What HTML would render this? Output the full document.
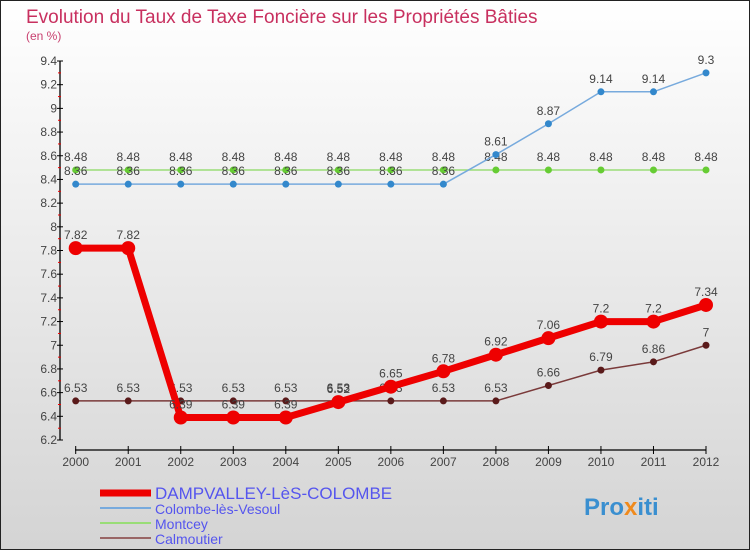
<!DOCTYPE html>
<html><head><meta charset="utf-8"><style>
body{margin:0;width:750px;height:550px;overflow:hidden;font-family:"Liberation Sans",sans-serif}
svg{display:block}
</style></head><body>
<svg width="750" height="550">
<defs><linearGradient id="bg" x1="0" y1="0" x2="0" y2="1"><stop offset="0" stop-color="#ffffff"/><stop offset="1" stop-color="#d4d4d4"/></linearGradient></defs>
<rect x="0.5" y="0.5" width="749" height="549" fill="url(#bg)" stroke="#222"/>
<text x="26" y="23" font-size="19" fill="#c8305f">Evolution du Taux de Taxe Foncière sur les Propriétés Bâties</text>
<text x="26" y="40" font-size="12" fill="#c8406f">(en %)</text>
<g id="axes"></g><g id="series"></g><g id="legend"></g>
<text x="584" y="515" font-size="24" font-weight="bold" fill="#3a8fd0">Pro<tspan fill="#f08a1c">x</tspan>iti</text>
</svg>
<script>
const years=[2000,2001,2002,2003,2004,2005,2006,2007,2008,2009,2010,2011,2012];
const yTicks=[6.2,6.4,6.6,6.8,7,7.2,7.4,7.6,7.8,8,8.2,8.4,8.6,8.8,9,9.2,9.4];
const dampvalley=[7.82,7.82,6.39,6.39,6.39,6.52,6.65,6.78,6.92,7.06,7.2,7.2,7.34];
const colombe=[8.36,8.36,8.36,8.36,8.36,8.36,8.36,8.36,8.61,8.87,9.14,9.14,9.3];
const montcey=[8.48,8.48,8.48,8.48,8.48,8.48,8.48,8.48,8.48,8.48,8.48,8.48,8.48];
const calmoutier=[6.53,6.53,6.53,6.53,6.53,6.53,6.53,6.53,6.53,6.66,6.79,6.86,7];
const NS='http://www.w3.org/2000/svg';
function X(i){return 75.7+i*(706-75.7)/(years.length-1);}
function Y(v){return 440-(v-6.2)/3.2*379;}
function mk(t,a,p){const e=document.createElementNS(NS,t);for(const k in a)e.setAttribute(k,a[k]);p.appendChild(e);return e;}
const ax=document.getElementById('axes');
let e=mk('line',{x1:60,y1:61,x2:60,y2:440,stroke:'#000','stroke-width':1.3},ax);


yTicks.forEach((v,i)=>{
 const y=Y(v);
 let t=mk('line',{x1:57,x2:63,y1:y,y2:y,stroke:'#000'},ax);
 
 
 if(i<yTicks.length-1){let m=mk('line',{x1:58,x2:61,y1:y-11.8,y2:y-11.8,stroke:'#e00'},ax);
 
 }
 let l=mk('text',{x:57,y:y+4,'font-size':12,fill:'#444','text-anchor':'end'},ax);
 l.textContent=String(v);
 
 
});
e=mk('line',{x1:75,y1:450,x2:706,y2:450,stroke:'#000','stroke-width':1.3},ax);


years.forEach((yr,i)=>{
 let t=mk('line',{x1:X(i),x2:X(i),y1:446,y2:454,stroke:'#000'},ax);
 
 
 let l=mk('text',{x:X(i),y:466,'font-size':12,fill:'#444','text-anchor':'middle'},ax);
 l.textContent=yr;
 
 
});
const sg=document.getElementById('series');
function draw(name,data,color,w,r,dot){
 const g=mk('g',{},sg);
 
 
 let p=mk('polyline',{points:data.map((v,i)=>X(i)+','+Y(v)).join(' '),fill:'none',stroke:color,'stroke-width':w,'stroke-linejoin':'round'},g);
 
 
 data.forEach((v,i)=>{
  let c=mk('circle',{cx:X(i),cy:Y(v),r:r,fill:dot},g);
  
  
  let t=mk('text',{x:X(i),y:Y(v)-9,'font-size':12,fill:'#444','text-anchor':'middle'},g);
  t.textContent=String(v);
  
  
 });
}
draw('calmoutier',calmoutier,'#7a3a3a',1.5,3.5,'#5a1a1a');
draw('montcey',montcey,'#99dd77',1.5,3.5,'#66cc33');
draw('colombe',colombe,'#77aadd',1.5,3.5,'#3388cc');
draw('dampvalley',dampvalley,'#ee0000',7,7,'#ee0000');
const lg=document.getElementById('legend');
const items=[['DAMPVALLEY-LèS-COLOMBE','#ee0000',7,16],['Colombe-lès-Vesoul','#77aadd',2,13],['Montcey','#99dd77',2,13],['Calmoutier','#996666',2,13]];
const ly=[493,508,523,538];
items.forEach((it,i)=>{
 const g=mk('g',{},lg);
 
 
 mk('line',{x1:100,x2:151,y1:ly[i],y2:ly[i],stroke:it[1],'stroke-width':it[2]},g);
 let t=mk('text',{x:155,y:ly[i]+6,'font-size':it[3]+1,fill:'#5555ee'},g);
 t.textContent=it[0];
 
 
});
</script>
</body></html>
